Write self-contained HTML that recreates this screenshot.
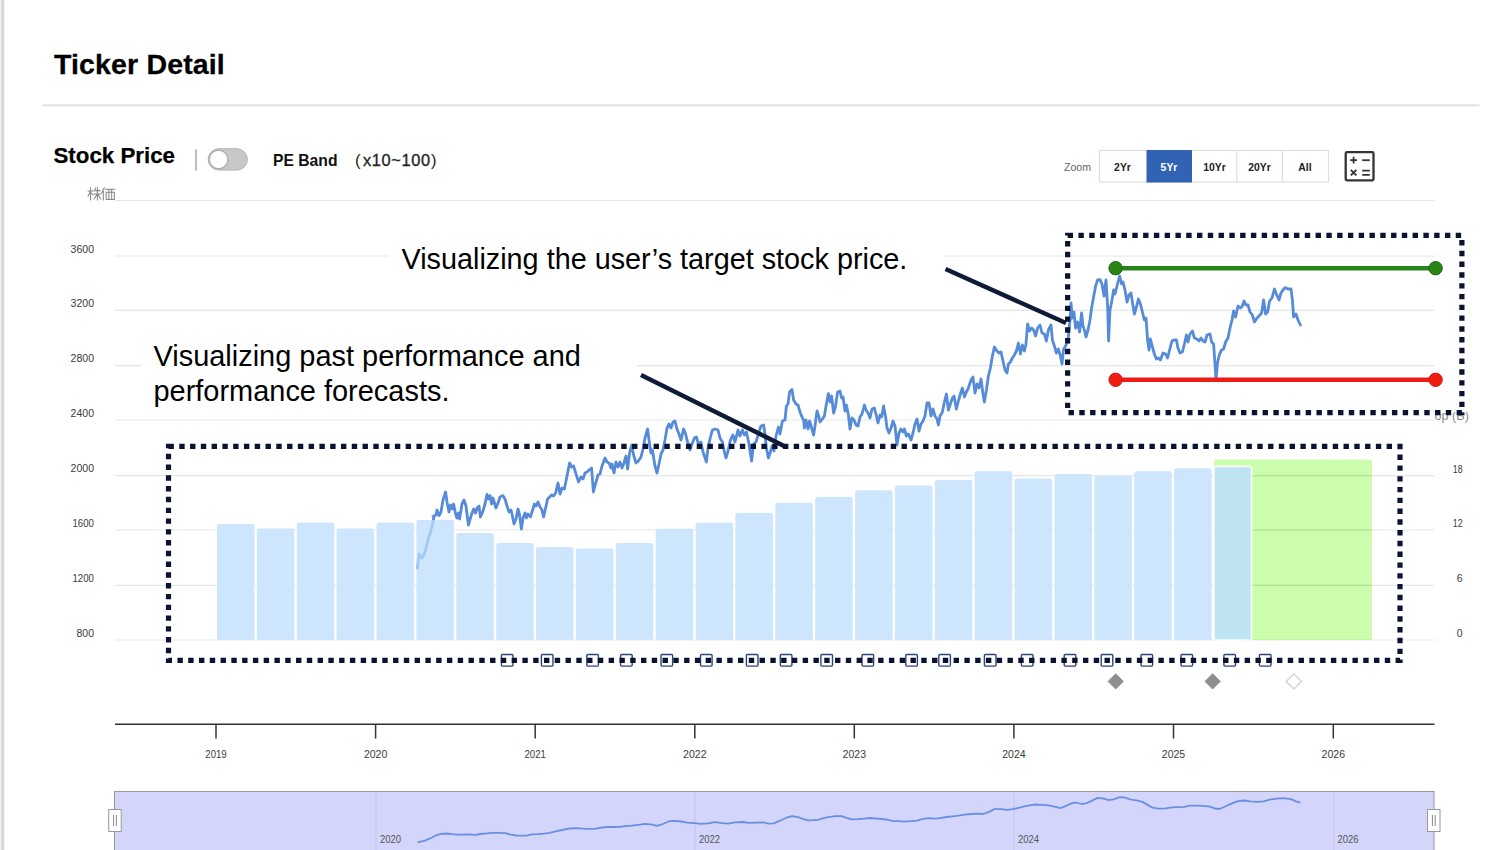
<!DOCTYPE html>
<html><head><meta charset="utf-8"><title>Ticker Detail</title>
<style>
html,body{margin:0;padding:0;background:#fff;}
body{width:1500px;height:850px;overflow:hidden;font-family:"Liberation Sans",sans-serif;}
svg{display:block;position:absolute;left:0;top:0;}
text{font-family:"Liberation Sans",sans-serif;}
.ax{font-size:11.3px;fill:#3a3a3a;}
.nv{font-size:11px;fill:#555;}
.ann{font-size:28.8px;fill:#000;}
.btn{font-size:10.4px;font-weight:bold;fill:#222;}
</style></head>
<body>
<svg width="1500" height="850" viewBox="0 0 1500 850">
<rect x="0" y="0" width="1500" height="850" fill="#fff"/>
<!-- left edge -->
<rect x="0" y="0" width="1.2" height="850" fill="#f1f1f1"/>
<rect x="1.2" y="0" width="3" height="850" fill="#d6d6d6"/>
<!-- header -->
<text x="54" y="74.2" font-size="28.5" font-weight="bold" fill="#000" stroke="#000" stroke-width="0.3" letter-spacing="0.15">Ticker Detail</text>
<line x1="42" x2="1479.5" y1="105.2" y2="105.2" stroke="#e3e3e3" stroke-width="2"/>
<text x="53.5" y="163.4" font-size="22.3" font-weight="bold" fill="#000" stroke="#000" stroke-width="0.25">Stock Price</text>
<rect x="195" y="149.4" width="2" height="21.2" fill="#bdbdbd"/>
<rect x="208.2" y="148.7" width="39.2" height="21.4" rx="10.7" fill="#c8c8c8" stroke="#b6b6b6" stroke-width="1"/>
<circle cx="218.6" cy="159.4" r="9.3" fill="#fff" stroke="#adadad" stroke-width="1.3"/>
<text x="273" y="166" font-size="15.7" font-weight="bold" fill="#111">PE Band</text>
<text x="355" y="166" font-size="16.6" fill="#222">(</text>
<text x="363" y="166" font-size="16.4" fill="#222" stroke="#222" stroke-width="0.3" textLength="67" lengthAdjust="spacing">x10~100</text>
<text x="431" y="166" font-size="16.6" fill="#222">)</text>
<!-- zoom buttons -->
<text x="1064" y="171.2" font-size="10.6" fill="#666">Zoom</text>
<rect x="1099.5" y="150.5" width="229" height="31.5" fill="#fff" stroke="#dedede" stroke-width="1.2"/>
<rect x="1146.5" y="150" width="45.5" height="32.5" fill="#3262b4"/>
<line x1="1236.8" x2="1236.8" y1="150.5" y2="182" stroke="#dedede" stroke-width="1.2"/>
<line x1="1282.4" x2="1282.4" y1="150.5" y2="182" stroke="#dedede" stroke-width="1.2"/>
<text x="1122.5" y="171" text-anchor="middle" class="btn">2Yr</text>
<text x="1169" y="171" text-anchor="middle" class="btn" style="fill:#fff">5Yr</text>
<text x="1214.5" y="171" text-anchor="middle" class="btn">10Yr</text>
<text x="1259.5" y="171" text-anchor="middle" class="btn">20Yr</text>
<text x="1305" y="171" text-anchor="middle" class="btn">All</text>
<!-- calculator icon -->
<rect x="1345.7" y="152.1" width="27.8" height="28.2" rx="1.3" fill="#fff" stroke="#333" stroke-width="2.3"/>
<g stroke="#333" stroke-width="1.8" fill="none">
<path d="M1350.2,160.2 H1357 M1353.6,156.8 V163.6"/>
<path d="M1362.2,160.2 H1369.8"/>
<path d="M1350.8,169.8 L1356.4,175.4 M1356.4,169.8 L1350.8,175.4"/>
<path d="M1362.2,170.6 H1369.8 M1362.2,174.8 H1369.8"/>
</g>
<!-- kabuka label (drawn) -->
<g id="kabuka" stroke="#868686" stroke-width="1.05" fill="none" stroke-linecap="round">
<path d="M90.6,187.6 V200 M88,191 H93.4 M90.4,191.6 L88,196.2 M90.8,192.6 L93.2,195"/>
<path d="M95.6,188 L94.6,190.4 M94.6,190.6 H100.2 M93.8,194 H100.8 M97.4,187.6 V200 M97,194.4 L94,199 M97.8,194.4 L100.8,199"/>
<path d="M104.4,187.6 L101.6,193 M103.3,191 V200"/>
<path d="M105.4,189.2 H115 M106.2,192.2 H114.4 V199.4 H106.2 Z M108.9,189.2 V199.4 M111.7,189.2 V199.4"/>
</g>
<!-- grid -->
<line x1="115" x2="1434.5" y1="200.5" y2="200.5" stroke="#e6e6e6" stroke-width="1"/>
<line x1="115" x2="1434.5" y1="256" y2="256" stroke="#e6e6e6" stroke-width="1.2"/>
<line x1="115" x2="1434.5" y1="310.4" y2="310.4" stroke="#e6e6e6" stroke-width="1.2"/>
<line x1="115" x2="1434.5" y1="365.6" y2="365.6" stroke="#e6e6e6" stroke-width="1.2"/>
<line x1="115" x2="1434.5" y1="420" y2="420" stroke="#e6e6e6" stroke-width="1.2"/>
<line x1="115" x2="1434.5" y1="475.6" y2="475.6" stroke="#e6e6e6" stroke-width="1.2"/>
<line x1="115" x2="1434.5" y1="530" y2="530" stroke="#e6e6e6" stroke-width="1.2"/>
<line x1="115" x2="1434.5" y1="585.4" y2="585.4" stroke="#e6e6e6" stroke-width="1.2"/>
<line x1="115" x2="1434.5" y1="640" y2="640" stroke="#e6e6e6" stroke-width="1.2"/>

<text x="70.6" y="252.6" class="ax" textLength="23.4" lengthAdjust="spacingAndGlyphs">3600</text>
<text x="70.6" y="307.0" class="ax" textLength="23.4" lengthAdjust="spacingAndGlyphs">3200</text>
<text x="70.6" y="362.2" class="ax" textLength="23.4" lengthAdjust="spacingAndGlyphs">2800</text>
<text x="70.6" y="416.6" class="ax" textLength="23.4" lengthAdjust="spacingAndGlyphs">2400</text>
<text x="70.6" y="472.2" class="ax" textLength="23.4" lengthAdjust="spacingAndGlyphs">2000</text>
<text x="72.5" y="526.6" class="ax" textLength="21.4" lengthAdjust="spacingAndGlyphs">1600</text>
<text x="72.5" y="582.0" class="ax" textLength="21.4" lengthAdjust="spacingAndGlyphs">1200</text>
<text x="76.5" y="636.6" class="ax" textLength="17.5" lengthAdjust="spacingAndGlyphs">800</text>
<text x="1452.8" y="472.6" class="ax" textLength="9.8" lengthAdjust="spacingAndGlyphs">18</text>
<text x="1452.8" y="527.0" class="ax" textLength="9.8" lengthAdjust="spacingAndGlyphs">12</text>
<text x="1456.8" y="582.4" class="ax" textLength="5.8" lengthAdjust="spacingAndGlyphs">6</text>
<text x="1456.8" y="637.0" class="ax" textLength="5.8" lengthAdjust="spacingAndGlyphs">0</text>

<!-- bar underlay -->
<path d="M217.0,640.0 V526.2 Q217.0,524.0 219.2,524.0 H252.3 Q254.5,524.0 254.5,526.2 V640.0 Z" fill="#fff"/>
<path d="M256.9,640.0 V530.6 Q256.9,528.4 259.1,528.4 H292.2 Q294.4,528.4 294.4,530.6 V640.0 Z" fill="#fff"/>
<path d="M296.8,640.0 V524.8 Q296.8,522.6 299.0,522.6 H332.1 Q334.3,522.6 334.3,524.8 V640.0 Z" fill="#fff"/>
<path d="M336.6,640.0 V530.6 Q336.6,528.4 338.8,528.4 H371.9 Q374.1,528.4 374.1,530.6 V640.0 Z" fill="#fff"/>
<path d="M376.5,640.0 V524.8 Q376.5,522.6 378.7,522.6 H411.8 Q414.0,522.6 414.0,524.8 V640.0 Z" fill="#fff"/>
<path d="M416.4,640.0 V522.2 Q416.4,520.0 418.6,520.0 H451.7 Q453.9,520.0 453.9,522.2 V640.0 Z" fill="#fff"/>
<path d="M456.3,640.0 V535.2 Q456.3,533.0 458.5,533.0 H491.6 Q493.8,533.0 493.8,535.2 V640.0 Z" fill="#fff"/>
<path d="M496.2,640.0 V545.2 Q496.2,543.0 498.4,543.0 H531.5 Q533.7,543.0 533.7,545.2 V640.0 Z" fill="#fff"/>
<path d="M536.0,640.0 V549.2 Q536.0,547.0 538.2,547.0 H571.3 Q573.5,547.0 573.5,549.2 V640.0 Z" fill="#fff"/>
<path d="M575.9,640.0 V550.6 Q575.9,548.4 578.1,548.4 H611.2 Q613.4,548.4 613.4,550.6 V640.0 Z" fill="#fff"/>
<path d="M615.8,640.0 V545.2 Q615.8,543.0 618.0,543.0 H651.1 Q653.3,543.0 653.3,545.2 V640.0 Z" fill="#fff"/>
<path d="M655.7,640.0 V530.9 Q655.7,528.7 657.9,528.7 H691.0 Q693.2,528.7 693.2,530.9 V640.0 Z" fill="#fff"/>
<path d="M695.6,640.0 V524.9 Q695.6,522.7 697.8,522.7 H730.9 Q733.1,522.7 733.1,524.9 V640.0 Z" fill="#fff"/>
<path d="M735.4,640.0 V515.1 Q735.4,512.9 737.6,512.9 H770.7 Q772.9,512.9 772.9,515.1 V640.0 Z" fill="#fff"/>
<path d="M775.3,640.0 V505.0 Q775.3,502.8 777.5,502.8 H810.6 Q812.8,502.8 812.8,505.0 V640.0 Z" fill="#fff"/>
<path d="M815.2,640.0 V499.2 Q815.2,497.0 817.4,497.0 H850.5 Q852.7,497.0 852.7,499.2 V640.0 Z" fill="#fff"/>
<path d="M855.1,640.0 V492.5 Q855.1,490.3 857.3,490.3 H890.4 Q892.6,490.3 892.6,492.5 V640.0 Z" fill="#fff"/>
<path d="M895.0,640.0 V487.7 Q895.0,485.5 897.2,485.5 H930.3 Q932.5,485.5 932.5,487.7 V640.0 Z" fill="#fff"/>
<path d="M934.8,640.0 V482.2 Q934.8,480.0 937.0,480.0 H970.1 Q972.3,480.0 972.3,482.2 V640.0 Z" fill="#fff"/>
<path d="M974.7,640.0 V473.5 Q974.7,471.3 976.9,471.3 H1010.0 Q1012.2,471.3 1012.2,473.5 V640.0 Z" fill="#fff"/>
<path d="M1014.6,640.0 V480.6 Q1014.6,478.4 1016.8,478.4 H1049.9 Q1052.1,478.4 1052.1,480.6 V640.0 Z" fill="#fff"/>
<path d="M1054.5,640.0 V476.2 Q1054.5,474.0 1056.7,474.0 H1089.8 Q1092.0,474.0 1092.0,476.2 V640.0 Z" fill="#fff"/>
<path d="M1094.4,640.0 V477.7 Q1094.4,475.5 1096.6,475.5 H1129.7 Q1131.9,475.5 1131.9,477.7 V640.0 Z" fill="#fff"/>
<path d="M1134.2,640.0 V473.4 Q1134.2,471.2 1136.4,471.2 H1169.5 Q1171.7,471.2 1171.7,473.4 V640.0 Z" fill="#fff"/>
<path d="M1174.1,640.0 V470.5 Q1174.1,468.3 1176.3,468.3 H1209.4 Q1211.6,468.3 1211.6,470.5 V640.0 Z" fill="#fff"/>

<!-- price line -->
<polyline points="417.6,568.0 419.0,554.0 422.0,558.0 425.0,552.0 428.0,540.0 430.0,534.0 432.0,526.0 434.0,517.0 433.0,516.4 436.0,515.0 437.0,510.0 439.0,515.6 441.0,512.0 443.0,500.0 445.6,492.0 447.0,502.0 449.0,512.0 450.4,505.0 452.4,509.0 453.6,504.0 455.6,514.0 457.0,518.0 458.4,513.0 459.6,519.0 462.0,504.0 464.0,500.0 466.0,506.0 468.4,525.0 471.0,516.0 473.6,509.0 475.6,513.0 477.0,508.0 479.0,506.0 480.4,517.0 483.0,511.0 485.0,504.0 487.0,494.4 488.4,499.0 490.0,495.6 491.6,504.0 493.0,498.0 496.0,508.0 498.0,503.0 500.0,497.0 503.0,495.6 505.0,499.0 507.0,506.0 509.0,512.0 511.0,510.0 512.0,514.0 514.0,524.0 516.0,519.0 518.0,509.0 519.4,514.0 521.4,529.0 523.0,518.0 525.0,513.0 526.4,518.0 528.0,514.0 530.4,517.0 532.0,512.0 534.4,504.0 536.0,506.0 538.0,502.0 540.0,507.0 541.6,509.0 543.6,517.0 545.6,508.0 547.6,499.0 549.6,497.0 551.6,495.0 553.6,496.0 555.6,493.0 558.0,483.0 560.0,494.0 562.0,488.0 564.4,489.0 567.0,476.0 569.6,463.0 571.6,467.0 573.6,466.0 576.0,474.0 578.6,482.0 581.0,477.0 583.0,479.0 585.0,473.0 587.0,472.0 589.0,470.0 591.6,468.0 593.4,492.0 596.0,482.0 598.0,475.0 600.0,474.0 602.0,466.0 605.0,458.0 607.0,462.0 609.0,463.0 611.0,468.0 612.0,464.0 614.0,473.0 616.0,462.0 618.0,467.0 620.0,462.0 622.0,468.0 624.0,463.0 626.0,456.0 627.6,469.0 629.6,453.0 631.6,445.0 633.6,455.0 636.0,463.0 638.4,461.0 641.0,457.0 643.0,449.0 645.0,438.0 647.6,429.0 649.0,440.0 651.0,453.0 652.4,450.0 655.0,466.0 657.0,473.0 659.0,464.0 661.0,454.0 663.0,450.0 665.0,440.0 667.0,428.0 669.0,424.0 671.0,428.0 673.0,422.0 675.0,421.0 677.0,429.0 679.0,434.0 681.0,440.0 683.6,429.0 685.6,434.0 687.0,440.0 690.0,450.0 692.0,444.0 694.4,438.0 696.4,437.0 698.4,444.0 701.0,442.0 703.0,452.0 706.4,462.0 708.0,448.0 710.0,439.0 712.4,430.0 715.0,429.0 718.0,430.0 720.0,438.0 722.4,442.0 724.4,452.0 726.0,458.0 728.0,451.0 730.4,440.0 733.0,435.0 735.0,442.0 738.0,430.0 740.0,436.0 742.4,430.0 744.4,435.0 746.4,432.0 749.0,444.0 751.6,461.0 753.6,444.0 756.0,442.0 759.0,432.0 761.0,426.0 763.6,425.0 765.0,434.0 766.4,448.0 768.4,458.0 770.4,452.0 772.0,446.0 774.0,451.0 776.0,436.0 778.4,427.0 780.0,434.0 782.4,421.0 785.0,420.0 786.4,406.0 788.0,404.0 789.6,392.0 792.0,389.6 793.6,400.0 796.0,404.0 798.0,405.0 800.0,412.0 802.0,417.0 803.6,420.0 804.4,428.0 806.0,420.0 808.0,429.0 809.6,421.0 811.6,428.0 813.6,435.0 815.0,426.0 817.0,411.0 819.0,417.0 820.0,422.0 822.4,419.0 824.4,416.0 826.4,404.0 828.4,393.6 830.0,402.0 831.6,396.0 833.6,413.0 835.6,406.0 837.6,392.0 840.0,391.0 841.6,398.0 843.0,397.0 845.0,411.0 846.4,405.0 848.4,415.0 850.0,429.0 852.0,418.0 854.0,420.0 856.0,425.0 858.0,426.0 860.0,417.0 862.0,414.0 864.4,405.0 866.0,410.0 868.0,413.0 870.0,418.0 872.0,409.0 874.4,408.0 876.4,416.0 878.0,423.0 880.0,415.0 881.6,417.0 883.6,406.0 885.6,417.0 887.0,428.0 889.0,433.0 891.0,428.0 893.0,421.0 895.0,426.0 897.0,445.0 899.0,433.0 901.0,429.0 903.0,432.0 904.4,429.0 906.4,436.0 908.4,434.0 911.0,440.0 913.0,433.0 915.0,424.0 917.0,419.0 919.0,431.0 921.0,424.0 923.0,421.0 925.0,416.0 927.0,403.0 929.0,403.0 931.0,416.0 933.0,409.0 935.0,416.0 937.0,419.0 938.4,425.0 940.0,416.0 942.4,412.0 944.4,402.0 946.4,394.0 948.4,410.0 950.4,404.0 952.4,398.0 954.0,396.0 956.4,409.0 958.4,401.0 961.0,392.0 962.4,388.0 964.4,397.0 966.4,392.0 968.4,388.0 971.0,380.0 973.0,377.0 975.0,393.0 977.0,384.0 979.0,388.0 981.0,379.0 983.0,394.0 984.4,402.0 986.4,390.0 988.4,376.0 990.4,368.0 992.4,356.0 994.4,347.0 997.0,351.0 999.0,353.0 1001.0,352.0 1003.0,361.0 1005.0,370.0 1007.0,373.0 1008.4,364.0 1010.4,362.0 1012.4,358.0 1014.4,355.0 1016.4,351.0 1018.4,343.0 1020.4,354.0 1022.4,345.0 1024.4,351.0 1026.0,344.0 1027.6,324.0 1029.6,331.0 1031.6,328.0 1033.6,330.0 1035.6,336.0 1037.6,328.0 1040.0,325.0 1042.0,333.0 1044.4,334.0 1046.4,341.0 1048.4,330.0 1051.0,325.0 1052.4,340.0 1054.4,346.0 1056.4,353.0 1058.4,349.0 1060.4,356.0 1062.0,364.0 1063.6,349.0 1065.6,346.0 1068.0,340.0 1070.0,320.0 1071.0,303.0 1072.4,318.0 1074.0,312.0 1075.6,328.0 1077.6,322.0 1079.6,332.0 1081.6,313.0 1083.0,326.0 1084.4,330.0 1086.0,337.0 1088.0,330.0 1090.0,320.0 1091.6,308.0 1093.6,297.0 1095.6,286.0 1097.6,280.0 1100.0,279.6 1102.0,284.0 1104.0,296.0 1106.0,280.0 1107.6,306.0 1108.6,341.0 1110.0,310.0 1112.0,300.0 1113.6,290.0 1115.0,294.0 1117.0,286.0 1119.6,276.0 1121.6,284.0 1123.0,282.0 1125.0,290.0 1127.0,302.0 1129.0,295.0 1131.0,293.0 1133.0,306.0 1134.4,314.0 1136.4,307.0 1138.4,299.0 1140.4,304.0 1142.4,312.0 1144.4,320.0 1146.0,318.0 1147.6,340.0 1149.0,350.0 1150.4,339.0 1152.4,347.0 1154.4,354.0 1156.4,359.0 1158.4,358.0 1160.4,360.0 1163.0,353.0 1165.6,354.0 1167.6,358.0 1169.6,350.0 1172.0,341.0 1174.0,340.0 1176.4,340.0 1178.0,348.0 1180.0,353.0 1182.4,352.0 1184.4,344.0 1186.4,335.0 1188.0,342.0 1190.0,334.0 1192.4,331.0 1194.4,338.0 1197.0,339.0 1199.0,341.0 1201.0,338.0 1203.0,341.0 1205.0,342.0 1207.0,335.0 1210.0,334.0 1211.6,342.0 1213.6,344.0 1215.0,364.0 1216.0,380.0 1217.6,362.0 1219.6,354.0 1221.6,350.0 1223.6,349.0 1225.6,342.0 1228.0,338.0 1230.0,328.0 1232.0,320.0 1233.6,311.0 1235.6,317.0 1238.0,306.0 1240.4,308.0 1242.4,306.0 1244.0,301.0 1246.0,305.0 1248.0,305.0 1250.0,312.0 1252.4,315.0 1254.4,322.0 1257.0,318.0 1259.0,316.0 1261.6,313.0 1263.6,300.0 1265.6,314.0 1267.6,312.0 1269.6,301.0 1272.0,298.0 1274.4,289.0 1276.4,294.0 1279.0,300.0 1281.0,293.0 1283.0,290.0 1285.0,287.6 1288.0,289.0 1291.0,289.0 1292.4,300.0 1293.6,317.0 1296.0,314.0 1298.0,320.0 1300.4,325.0" fill="none" stroke="#558bd9" stroke-width="2.8" stroke-linejoin="round" stroke-linecap="round"/>
<!-- bars -->
<path d="M1214.0,640.0 V462.1 Q1214.0,459.6 1216.5,459.6 H1369.5 Q1372.0,459.6 1372.0,462.1 V640.0 Z" fill="rgb(153,251,91)" fill-opacity="0.5"/>
<line x1="1253" x2="1372" y1="475.6" y2="475.6" stroke="#2a5a10" stroke-opacity="0.10" stroke-width="1.4"/>
<line x1="1253" x2="1372" y1="530" y2="530" stroke="#2a5a10" stroke-opacity="0.10" stroke-width="1.4"/>
<line x1="1253" x2="1372" y1="585.4" y2="585.4" stroke="#2a5a10" stroke-opacity="0.10" stroke-width="1.4"/>

<path d="M217.0,640.0 V526.2 Q217.0,524.0 219.2,524.0 H252.3 Q254.5,524.0 254.5,526.2 V640.0 Z" fill="rgb(188,222,252)" fill-opacity="0.75" />
<path d="M256.9,640.0 V530.6 Q256.9,528.4 259.1,528.4 H292.2 Q294.4,528.4 294.4,530.6 V640.0 Z" fill="rgb(188,222,252)" fill-opacity="0.75" />
<path d="M296.8,640.0 V524.8 Q296.8,522.6 299.0,522.6 H332.1 Q334.3,522.6 334.3,524.8 V640.0 Z" fill="rgb(188,222,252)" fill-opacity="0.75" />
<path d="M336.6,640.0 V530.6 Q336.6,528.4 338.8,528.4 H371.9 Q374.1,528.4 374.1,530.6 V640.0 Z" fill="rgb(188,222,252)" fill-opacity="0.75" />
<path d="M376.5,640.0 V524.8 Q376.5,522.6 378.7,522.6 H411.8 Q414.0,522.6 414.0,524.8 V640.0 Z" fill="rgb(188,222,252)" fill-opacity="0.75" />
<path d="M416.4,640.0 V522.2 Q416.4,520.0 418.6,520.0 H451.7 Q453.9,520.0 453.9,522.2 V640.0 Z" fill="rgb(188,222,252)" fill-opacity="0.75" />
<path d="M456.3,640.0 V535.2 Q456.3,533.0 458.5,533.0 H491.6 Q493.8,533.0 493.8,535.2 V640.0 Z" fill="rgb(188,222,252)" fill-opacity="0.75" />
<path d="M496.2,640.0 V545.2 Q496.2,543.0 498.4,543.0 H531.5 Q533.7,543.0 533.7,545.2 V640.0 Z" fill="rgb(188,222,252)" fill-opacity="0.75" />
<path d="M536.0,640.0 V549.2 Q536.0,547.0 538.2,547.0 H571.3 Q573.5,547.0 573.5,549.2 V640.0 Z" fill="rgb(188,222,252)" fill-opacity="0.75" />
<path d="M575.9,640.0 V550.6 Q575.9,548.4 578.1,548.4 H611.2 Q613.4,548.4 613.4,550.6 V640.0 Z" fill="rgb(188,222,252)" fill-opacity="0.75" />
<path d="M615.8,640.0 V545.2 Q615.8,543.0 618.0,543.0 H651.1 Q653.3,543.0 653.3,545.2 V640.0 Z" fill="rgb(188,222,252)" fill-opacity="0.75" />
<path d="M655.7,640.0 V530.9 Q655.7,528.7 657.9,528.7 H691.0 Q693.2,528.7 693.2,530.9 V640.0 Z" fill="rgb(188,222,252)" fill-opacity="0.75" />
<path d="M695.6,640.0 V524.9 Q695.6,522.7 697.8,522.7 H730.9 Q733.1,522.7 733.1,524.9 V640.0 Z" fill="rgb(188,222,252)" fill-opacity="0.75" />
<path d="M735.4,640.0 V515.1 Q735.4,512.9 737.6,512.9 H770.7 Q772.9,512.9 772.9,515.1 V640.0 Z" fill="rgb(188,222,252)" fill-opacity="0.75" />
<path d="M775.3,640.0 V505.0 Q775.3,502.8 777.5,502.8 H810.6 Q812.8,502.8 812.8,505.0 V640.0 Z" fill="rgb(188,222,252)" fill-opacity="0.75" />
<path d="M815.2,640.0 V499.2 Q815.2,497.0 817.4,497.0 H850.5 Q852.7,497.0 852.7,499.2 V640.0 Z" fill="rgb(188,222,252)" fill-opacity="0.75" />
<path d="M855.1,640.0 V492.5 Q855.1,490.3 857.3,490.3 H890.4 Q892.6,490.3 892.6,492.5 V640.0 Z" fill="rgb(188,222,252)" fill-opacity="0.75" />
<path d="M895.0,640.0 V487.7 Q895.0,485.5 897.2,485.5 H930.3 Q932.5,485.5 932.5,487.7 V640.0 Z" fill="rgb(188,222,252)" fill-opacity="0.75" />
<path d="M934.8,640.0 V482.2 Q934.8,480.0 937.0,480.0 H970.1 Q972.3,480.0 972.3,482.2 V640.0 Z" fill="rgb(188,222,252)" fill-opacity="0.75" />
<path d="M974.7,640.0 V473.5 Q974.7,471.3 976.9,471.3 H1010.0 Q1012.2,471.3 1012.2,473.5 V640.0 Z" fill="rgb(188,222,252)" fill-opacity="0.75" />
<path d="M1014.6,640.0 V480.6 Q1014.6,478.4 1016.8,478.4 H1049.9 Q1052.1,478.4 1052.1,480.6 V640.0 Z" fill="rgb(188,222,252)" fill-opacity="0.75" />
<path d="M1054.5,640.0 V476.2 Q1054.5,474.0 1056.7,474.0 H1089.8 Q1092.0,474.0 1092.0,476.2 V640.0 Z" fill="rgb(188,222,252)" fill-opacity="0.75" />
<path d="M1094.4,640.0 V477.7 Q1094.4,475.5 1096.6,475.5 H1129.7 Q1131.9,475.5 1131.9,477.7 V640.0 Z" fill="rgb(188,222,252)" fill-opacity="0.75" />
<path d="M1134.2,640.0 V473.4 Q1134.2,471.2 1136.4,471.2 H1169.5 Q1171.7,471.2 1171.7,473.4 V640.0 Z" fill="rgb(188,222,252)" fill-opacity="0.75" />
<path d="M1174.1,640.0 V470.5 Q1174.1,468.3 1176.3,468.3 H1209.4 Q1211.6,468.3 1211.6,470.5 V640.0 Z" fill="rgb(188,222,252)" fill-opacity="0.75" />
<path d="M1214.0,640.0 V468.6 Q1214.0,466.4 1216.2,466.4 H1249.3 Q1251.5,466.4 1251.5,468.6 V640.0 Z" fill="rgb(188,222,252)" fill-opacity="0.86" stroke="#fff" stroke-width="1.6" stroke-opacity="0.85"/>

<!-- markers -->
<rect x="501.4" y="654.5" width="11.6" height="11.6" rx="1" fill="none" stroke="#2c4678" stroke-width="1.4"/>
<rect x="541.4" y="654.5" width="11.6" height="11.6" rx="1" fill="none" stroke="#2c4678" stroke-width="1.4"/>
<rect x="586.8" y="654.5" width="11.6" height="11.6" rx="1" fill="none" stroke="#2c4678" stroke-width="1.4"/>
<rect x="620.6" y="654.5" width="11.6" height="11.6" rx="1" fill="none" stroke="#2c4678" stroke-width="1.4"/>
<rect x="661.0" y="654.5" width="11.6" height="11.6" rx="1" fill="none" stroke="#2c4678" stroke-width="1.4"/>
<rect x="700.5" y="654.5" width="11.6" height="11.6" rx="1" fill="none" stroke="#2c4678" stroke-width="1.4"/>
<rect x="746.4" y="654.5" width="11.6" height="11.6" rx="1" fill="none" stroke="#2c4678" stroke-width="1.4"/>
<rect x="780.3" y="654.5" width="11.6" height="11.6" rx="1" fill="none" stroke="#2c4678" stroke-width="1.4"/>
<rect x="820.9" y="654.5" width="11.6" height="11.6" rx="1" fill="none" stroke="#2c4678" stroke-width="1.4"/>
<rect x="862.0" y="654.5" width="11.6" height="11.6" rx="1" fill="none" stroke="#2c4678" stroke-width="1.4"/>
<rect x="905.8" y="654.5" width="11.6" height="11.6" rx="1" fill="none" stroke="#2c4678" stroke-width="1.4"/>
<rect x="938.8" y="654.5" width="11.6" height="11.6" rx="1" fill="none" stroke="#2c4678" stroke-width="1.4"/>
<rect x="984.4" y="654.5" width="11.6" height="11.6" rx="1" fill="none" stroke="#2c4678" stroke-width="1.4"/>
<rect x="1021.4" y="654.5" width="11.6" height="11.6" rx="1" fill="none" stroke="#2c4678" stroke-width="1.4"/>
<rect x="1064.2" y="654.5" width="11.6" height="11.6" rx="1" fill="none" stroke="#2c4678" stroke-width="1.4"/>
<rect x="1101.2" y="654.5" width="11.6" height="11.6" rx="1" fill="none" stroke="#2c4678" stroke-width="1.4"/>
<rect x="1141.0" y="654.5" width="11.6" height="11.6" rx="1" fill="none" stroke="#2c4678" stroke-width="1.4"/>
<rect x="1181.0" y="654.5" width="11.6" height="11.6" rx="1" fill="none" stroke="#2c4678" stroke-width="1.4"/>
<rect x="1223.9" y="654.5" width="11.6" height="11.6" rx="1" fill="none" stroke="#2c4678" stroke-width="1.4"/>
<rect x="1259.4" y="654.5" width="11.6" height="11.6" rx="1" fill="none" stroke="#2c4678" stroke-width="1.4"/>

<path d="M1115.7,673.8 L1123.3,681.4 L1115.7,689.0 L1108.1000000000001,681.4 Z" fill="#8e8e8e" stroke="#8e8e8e" stroke-width="1"/>
<path d="M1212.6,673.8 L1220.1999999999998,681.4 L1212.6,689.0 L1205.0,681.4 Z" fill="#8e8e8e" stroke="#8e8e8e" stroke-width="1"/>
<path d="M1293.8,673.8 L1301.3999999999999,681.4 L1293.8,689.0 L1286.2,681.4 Z" fill="#fff" stroke="#d6d6d6" stroke-width="1.5"/>

<!-- x axis -->
<line x1="115" x2="1434.5" y1="724.2" y2="724.2" stroke="#333" stroke-width="1.5"/>
<line x1="216" x2="216" y1="724" y2="738.5" stroke="#333" stroke-width="1.5"/>
<text x="205.3" y="758.2" class="ax" textLength="21.4" lengthAdjust="spacingAndGlyphs">2019</text>
<line x1="375.6" x2="375.6" y1="724" y2="738.5" stroke="#333" stroke-width="1.5"/>
<text x="363.9" y="758.2" class="ax" textLength="23.4" lengthAdjust="spacingAndGlyphs">2020</text>
<line x1="535.2" x2="535.2" y1="724" y2="738.5" stroke="#333" stroke-width="1.5"/>
<text x="524.5" y="758.2" class="ax" textLength="21.4" lengthAdjust="spacingAndGlyphs">2021</text>
<line x1="694.8" x2="694.8" y1="724" y2="738.5" stroke="#333" stroke-width="1.5"/>
<text x="683.1" y="758.2" class="ax" textLength="23.4" lengthAdjust="spacingAndGlyphs">2022</text>
<line x1="854.3" x2="854.3" y1="724" y2="738.5" stroke="#333" stroke-width="1.5"/>
<text x="842.6" y="758.2" class="ax" textLength="23.4" lengthAdjust="spacingAndGlyphs">2023</text>
<line x1="1013.9" x2="1013.9" y1="724" y2="738.5" stroke="#333" stroke-width="1.5"/>
<text x="1002.2" y="758.2" class="ax" textLength="23.4" lengthAdjust="spacingAndGlyphs">2024</text>
<line x1="1173.5" x2="1173.5" y1="724" y2="738.5" stroke="#333" stroke-width="1.5"/>
<text x="1161.8" y="758.2" class="ax" textLength="23.4" lengthAdjust="spacingAndGlyphs">2025</text>
<line x1="1333.3" x2="1333.3" y1="724" y2="738.5" stroke="#333" stroke-width="1.5"/>
<text x="1321.6" y="758.2" class="ax" textLength="23.4" lengthAdjust="spacingAndGlyphs">2026</text>

<!-- op (B) label clipped -->
<clipPath id="opclip"><rect x="1430" y="412" width="60" height="20"/></clipPath>
<text x="1434.6" y="420.3" font-size="12.6" fill="#8a8a8a" clip-path="url(#opclip)">op (B)</text>
<!-- text boxes (white) -->
<rect x="389" y="232" width="555" height="50" fill="#fff"/>
<rect x="142" y="330" width="495" height="82" fill="#fff"/>
<!-- target lines -->
<line x1="1116" x2="1435.5" y1="268.2" y2="268.2" stroke="#27861a" stroke-width="4.5"/>
<circle cx="1115.6" cy="268.2" r="6.7" fill="#2a8515" stroke="#1d6a0e" stroke-width="1"/>
<circle cx="1435.6" cy="268.2" r="6.7" fill="#2a8515" stroke="#1d6a0e" stroke-width="1"/>
<line x1="1116" x2="1435.5" y1="379.8" y2="379.8" stroke="#ee1c14" stroke-width="4.5"/>
<circle cx="1115.6" cy="379.8" r="6.7" fill="#f01d12" stroke="#cf180e" stroke-width="1"/>
<circle cx="1435.6" cy="379.8" r="6.7" fill="#f01d12" stroke="#cf180e" stroke-width="1"/>
<!-- dotted boxes -->
<rect x="168.5" y="446.4" width="1231.5" height="214" fill="none" stroke="#0a1330" stroke-width="5.2" stroke-dasharray="5.39 5.39"/>
<rect x="1067.65" y="235.4" width="394.25" height="177.2" fill="none" stroke="#0a1330" stroke-width="5.2" stroke-dasharray="5.39 5.39"/>
<!-- annotation lines -->
<line x1="945.5" y1="269" x2="1066" y2="323" stroke="#0e1a36" stroke-width="4.4"/>
<line x1="641" y1="375" x2="784" y2="446" stroke="#0e1a36" stroke-width="4.4"/>
<!-- annotation text -->
<text x="401.5" y="268.6" class="ann">Visualizing the user’s target stock price.</text>
<text x="153.5" y="366.1" class="ann" style="font-size:28.95px">Visualizing past performance and</text>
<text x="153.5" y="400.5" class="ann" style="font-size:28.95px">performance forecasts.</text>
<!-- navigator -->
<rect x="114.5" y="791.5" width="1319.5" height="60" fill="#d4d5fb" stroke="#9a9a9a" stroke-width="1"/>
<line x1="375.9" x2="375.9" y1="792" y2="850" stroke="#c3c4ea" stroke-width="1"/>
<line x1="695" x2="695" y1="792" y2="850" stroke="#c3c4ea" stroke-width="1"/>
<line x1="1014" x2="1014" y1="792" y2="850" stroke="#c3c4ea" stroke-width="1"/>
<line x1="1334" x2="1334" y1="792" y2="850" stroke="#c3c4ea" stroke-width="1"/>
<text x="380" y="843" class="nv" textLength="21" lengthAdjust="spacingAndGlyphs">2020</text>
<text x="699" y="843" class="nv" textLength="21" lengthAdjust="spacingAndGlyphs">2022</text>
<text x="1018" y="843" class="nv" textLength="21" lengthAdjust="spacingAndGlyphs">2024</text>
<text x="1337.5" y="843" class="nv" textLength="21" lengthAdjust="spacingAndGlyphs">2026</text>
<polyline points="417.6,842.3 425.0,840.6 432.0,837.5 436.0,835.4 441.0,833.8 447.0,833.5 452.4,834.2 457.0,834.6 462.0,834.7 468.4,834.4 475.6,834.9 480.4,834.0 487.0,833.3 491.6,832.8 498.0,832.8 505.0,833.2 511.0,834.7 516.0,835.5 521.4,835.6 526.4,835.6 532.0,834.4 538.0,834.1 543.6,833.6 549.6,832.8 555.6,831.4 562.0,830.0 569.6,828.5 576.0,828.2 583.0,828.6 589.0,828.8 596.0,828.6 602.0,827.5 609.0,826.9 614.0,827.0 620.0,826.8 626.0,826.0 631.6,825.6 638.4,824.8 645.0,823.9 651.0,824.4 657.0,825.8 663.0,824.0 669.0,821.2 675.0,820.8 681.0,821.5 687.0,822.6 694.4,823.1 701.0,823.8 708.0,823.3 715.0,822.2 722.4,823.2 728.0,823.7 735.0,822.4 742.4,822.0 749.0,822.9 756.0,822.6 763.6,822.4 768.4,823.6 774.0,823.3 780.0,820.7 786.4,817.7 792.0,816.1 798.0,817.2 803.6,819.2 808.0,820.4 813.6,820.1 819.0,819.6 824.4,817.9 830.0,816.8 835.6,816.1 841.6,816.1 846.4,817.8 852.0,819.4 858.0,819.1 864.4,818.6 870.0,818.0 876.4,818.6 881.6,819.0 887.0,819.7 893.0,821.2 899.0,821.2 904.4,821.6 911.0,821.2 917.0,820.7 923.0,818.9 929.0,818.1 935.0,818.6 940.0,818.1 946.4,817.0 952.4,816.4 958.4,815.7 964.4,814.6 971.0,814.0 977.0,813.6 983.0,814.0 988.4,812.2 994.4,809.1 1001.0,809.2 1007.0,809.9 1012.4,809.1 1018.4,808.0 1024.4,806.4 1029.6,805.3 1035.6,804.5 1042.0,804.9 1048.4,805.4 1054.4,806.6 1060.4,808.1 1065.6,806.1 1071.0,803.5 1075.6,802.5 1081.6,804.0 1086.0,803.4 1091.6,800.9 1097.6,797.9 1104.0,798.7 1108.6,800.1 1113.6,799.4 1119.6,797.2 1125.0,797.7 1131.0,799.7 1136.4,800.3 1142.4,801.9 1147.6,804.9 1152.4,807.7 1158.4,808.6 1165.6,808.4 1172.0,807.4 1178.0,807.1 1184.4,806.8 1190.0,805.7 1197.0,805.7 1203.0,805.9 1210.0,806.7 1215.0,808.5 1219.6,809.0 1225.6,806.2 1232.0,803.4 1238.0,801.1 1244.0,800.5 1250.0,801.4 1257.0,801.8 1263.6,801.3 1269.6,799.7 1276.4,798.7 1283.0,798.2 1291.0,799.2 1296.0,801.3 1300.4,802.7" fill="none" stroke="#6b8fe0" stroke-width="1.8" stroke-linejoin="round"/>
<rect x="108.7" y="809.5" width="12.5" height="22" fill="#fff" stroke="#999" stroke-width="1"/>
<path d="M113.6,815 V826 M116.4,815 V826" stroke="#888" stroke-width="1"/>
<rect x="1427.5" y="809.5" width="12.5" height="22" fill="#fff" stroke="#999" stroke-width="1"/>
<path d="M1432.4,815 V826 M1435.2,815 V826" stroke="#888" stroke-width="1"/>
</svg>
</body></html>
